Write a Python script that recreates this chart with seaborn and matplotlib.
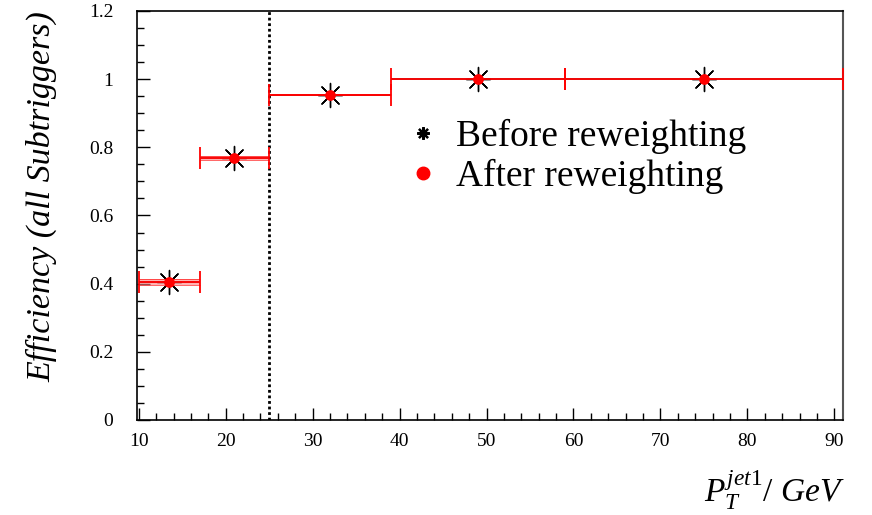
import numpy as np
import pandas as pd
import matplotlib
matplotlib.use("Agg")
import matplotlib.pyplot as plt
from matplotlib.lines import Line2D
from matplotlib.ticker import MultipleLocator
import seaborn as sns

# ---- data ----
pt_center = [13.5, 21.0, 32.0, 49.0, 75.0]
bin_low = [10, 17, 25, 39, 59]
bin_high = [17, 25, 39, 59, 91]
eff_before = [0.405, 0.770, 0.955, 1.000, 1.000]
eff_after = [0.405, 0.768, 0.955, 1.000, 1.000]
eff_err = [0.009, 0.006, 0.002, 0.0, 0.0]
cut_value = 25
x_ticks = [10, 20, 30, 40, 50, 60, 70, 80, 90]
y_ticks = [0, 0.2, 0.4, 0.6, 0.8, 1.0, 1.2]
y_tick_labels = ["0", "0.2", "0.4", "0.6", "0.8", "1", "1.2"]
legend_labels = ["Before reweighting", "After reweighting"]

df = pd.DataFrame({
    "pt": pt_center,
    "lo": bin_low,
    "hi": bin_high,
    "before": eff_before,
    "after": eff_after,
    "err": eff_err,
})
df["xl"] = df["pt"] - df["lo"]
df["xr"] = df["hi"] - df["pt"]

sns.set_theme(style="ticks")
plt.rcParams["font.family"] = ["Liberation Serif", "DejaVu Serif"]
plt.rcParams["mathtext.fontset"] = "custom"
plt.rcParams["mathtext.rm"] = "Liberation Serif"
plt.rcParams["mathtext.it"] = "Liberation Serif:italic"
plt.rcParams["text.color"] = "black"
plt.rcParams["axes.labelcolor"] = "black"
plt.rcParams["xtick.color"] = "black"
plt.rcParams["ytick.color"] = "black"
plt.rcParams["xtick.labelcolor"] = "black"
plt.rcParams["ytick.labelcolor"] = "black"

fig = plt.figure(figsize=(8.72, 5.15), dpi=100)
ax = fig.add_axes([137 / 872, 95 / 515, (843 - 137) / 872, (420 - 11) / 515])

# before: black error bars + asterisk markers
ax.errorbar(df["pt"], df["before"], xerr=[df["xl"], df["xr"]],
            fmt="none", ecolor="#444444", elinewidth=1.2, capsize=0, zorder=2)
sns.scatterplot(data=df, x="pt", y="before", marker=(8, 2, 0), s=300,
                color="black", linewidth=1.0, edgecolor="black", ax=ax, zorder=3,
                legend=False)

# after: red error bars with y-error band + red dots
for _, r in df.iterrows():
    if r["err"] > 0:
        ax.fill_between([r["lo"], r["hi"]], r["after"] - r["err"], r["after"] + r["err"],
                        color="#ff8080", alpha=0.6, linewidth=0, zorder=4)
        ax.hlines([r["after"] - r["err"], r["after"] + r["err"]], r["lo"], r["hi"],
                  color="red", linewidth=0.6, alpha=0.7, zorder=4)
ax.errorbar(df["pt"], df["after"], xerr=[df["xl"], df["xr"]],
            fmt="none", ecolor="red", elinewidth=1.3, capsize=8, capthick=1.3, zorder=4)
sns.scatterplot(data=df, x="pt", y="after", marker="o", s=60, color="red",
                linewidth=0, ax=ax, zorder=5, legend=False)

# cut line
ax.axvline(cut_value, color="black", linestyle=(0, (1, 1.0)), linewidth=2.0, zorder=1)

ax.set_xlim(9.8, 91)
ax.set_ylim(0, 1.2)
ax.set_xticks(x_ticks)
ax.set_yticks(y_ticks)
ax.set_yticklabels(y_tick_labels)
ax.xaxis.set_minor_locator(MultipleLocator(2))
ax.yaxis.set_minor_locator(MultipleLocator(0.05))
ax.tick_params(axis="both", which="both", direction="in", top=False, right=False,
               colors="black", labelcolor="black", labelsize=14)
ax.tick_params(axis="both", which="major", length=9, width=1.0)
ax.tick_params(axis="both", which="minor", length=5, width=1.0)
ax.tick_params(axis="x", which="major", pad=9)
ax.tick_params(axis="y", which="major", pad=17)
for s in ["left", "bottom", "top"]:
    ax.spines[s].set_visible(True)
    ax.spines[s].set_color("black")
    ax.spines[s].set_linewidth(1.2)
ax.spines["right"].set_visible(True)
ax.spines["right"].set_color("#555555")
ax.spines["right"].set_linewidth(1.5)

ax.set_xlabel("")
ax.set_ylabel("Efficiency (all Subtriggers)", fontsize=24.5, style="italic",
              labelpad=0, color="black")
ax.yaxis.set_label_coords((57 - 137) / 706, (420 - 197) / 409)

fig.text(845 / 872, 1 - 490 / 515, r"$P_{T}^{\mathit{jet1}}$/ $GeV$", fontsize=24,
         ha="right", va="center", color="black")

handles = [
    Line2D([], [], linestyle="none", marker=(8, 2, 0), markersize=9,
           color="black", markeredgewidth=1.6),
    Line2D([], [], linestyle="none", marker="o", markersize=9, color="red"),
]
leg = ax.legend(handles, legend_labels, loc="upper left",
                bbox_to_anchor=((394 - 137) / 706, (420 - 104) / 409), frameon=False,
                fontsize=27, handlelength=0.75, handletextpad=0.5, labelspacing=0.12,
                borderaxespad=0)
for t in leg.get_texts():
    t.set_color("black")

fig.savefig("out.png", dpi=100, facecolor="white")
